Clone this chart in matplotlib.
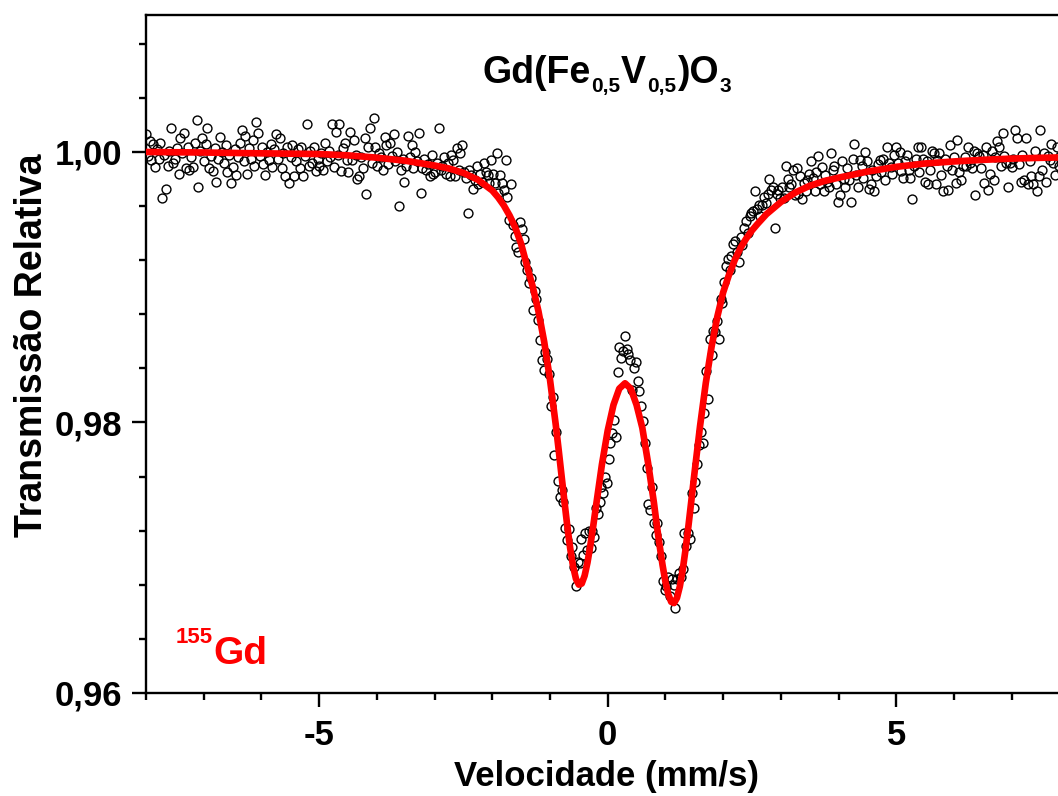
import numpy as np
import matplotlib
matplotlib.use("Agg")
import matplotlib.pyplot as plt
from matplotlib.ticker import MultipleLocator, FuncFormatter

plt.rcParams['font.family'] = ['Liberation Sans', 'DejaVu Sans']
plt.rcParams['font.weight'] = 'bold'
plt.rcParams['axes.unicode_minus'] = False

# 155Gd Mossbauer spectrum of Gd(Fe0.5V0.5)O3: 512 channels from -8 to +8 mm/s
velocity = np.linspace(-8.0, 8.0, 512)

# relative transmission, channels at negative velocities (-8.00 ... -2.02 mm/s)
trans_left = [
    1.0013, 0.9997, 1.0008, 0.9994, 1.0006, 0.9989, 1.0002, 0.9995, 1.0007, 0.9966, 0.9998, 0.9973, 0.9990, 1.0001, 1.0018, 0.9992,
    0.9995, 1.0003, 0.9984, 1.0010, 0.9999, 1.0014, 0.9988, 1.0004, 0.9987, 0.9996, 0.9989, 1.0007, 1.0024, 0.9974, 1.0001, 1.0010,
    0.9993, 1.0006, 1.0018, 0.9988, 0.9997, 0.9986, 1.0003, 0.9978, 0.9995, 1.0011, 1.0000, 0.9992, 1.0005, 0.9985, 0.9998, 0.9977,
    0.9989, 1.0002, 0.9983, 0.9996, 1.0007, 1.0016, 0.9993, 1.0012, 0.9984, 1.0003, 0.9995, 1.0009, 0.9990, 1.0022, 1.0014, 0.9997,
    1.0004, 0.9991, 0.9983, 1.0000, 0.9994, 1.0006, 0.9989, 1.0002, 1.0013, 0.9995, 1.0010, 0.9988, 0.9999, 0.9982, 1.0004, 0.9977,
    0.9996, 1.0005, 0.9982, 0.9993, 1.0002, 0.9988, 1.0004, 0.9982, 0.9997, 1.0021, 0.9990, 1.0001, 0.9992, 1.0004, 0.9986, 0.9995,
    0.9990, 0.9999, 0.9987, 1.0007, 0.9993, 1.0001, 0.9996, 1.0021, 0.9989, 1.0015, 0.9998, 1.0021, 0.9986, 1.0003, 1.0007, 0.9994,
    0.9985, 1.0015, 0.9994, 1.0009, 0.9998, 0.9980, 0.9982, 0.9996, 0.9988, 1.0010, 0.9969, 1.0004, 1.0018, 0.9992, 1.0025, 1.0004,
    0.9990, 0.9999, 0.9996, 0.9987, 1.0011, 1.0005, 0.9991, 1.0007, 0.9997, 1.0013, 0.9993, 1.0000, 0.9960, 0.9987, 0.9995, 0.9978,
    0.9990, 1.0012, 0.9996, 1.0005, 0.9988, 1.0000, 0.9993, 1.0014, 0.9970, 0.9988, 0.9995, 0.9987, 0.9991, 0.9982, 0.9998, 0.9984,
    0.9985, 0.9992, 1.0018, 0.9987, 0.9990, 0.9996, 0.9984, 0.9992, 0.9982, 0.9998, 0.9994, 0.9982, 1.0003, 0.9987, 0.9999, 1.0005,
    0.9985, 0.9981, 0.9955, 0.9987, 0.9983, 0.9973, 0.9979, 0.9990, 0.9976, 0.9984, 0.9978, 0.9992, 0.9985, 0.9983, 0.9977, 0.9994,
]

# channels across the doublet (-1.99 ... +1.99 mm/s)
trans_centre = [
    0.9984, 0.9977, 0.9999, 0.9970, 0.9983, 0.9977, 0.9972, 0.9994, 0.9967, 0.9950, 0.9976, 0.9946, 0.9938, 0.9930, 0.9926, 0.9948,
    0.9943, 0.9936, 0.9919, 0.9913, 0.9903, 0.9907, 0.9883, 0.9897, 0.9891, 0.9876, 0.9861, 0.9846, 0.9839, 0.9852, 0.9847, 0.9836,
    0.9812, 0.9819, 0.9776, 0.9793, 0.9757, 0.9745, 0.9750, 0.9741, 0.9722, 0.9713, 0.9721, 0.9701, 0.9708, 0.9693, 0.9679, 0.9697,
    0.9696, 0.9714, 0.9702, 0.9718, 0.9706, 0.9720, 0.9707, 0.9720, 0.9715, 0.9737, 0.9732, 0.9741, 0.9752, 0.9748, 0.9760, 0.9755,
    0.9773, 0.9785, 0.9792, 0.9802, 0.9789, 0.9837, 0.9856, 0.9848, 0.9853, 0.9864, 0.9854, 0.9851, 0.9846, 0.9824, 0.9840, 0.9845,
    0.9831, 0.9823, 0.9812, 0.9801, 0.9785, 0.9766, 0.9740, 0.9735, 0.9752, 0.9726, 0.9717, 0.9726, 0.9712, 0.9701, 0.9683, 0.9676,
    0.9679, 0.9686, 0.9672, 0.9684, 0.9680, 0.9663, 0.9684, 0.9689, 0.9686, 0.9692, 0.9718, 0.9709, 0.9718, 0.9714, 0.9748, 0.9737,
    0.9756, 0.9769, 0.9783, 0.9793, 0.9785, 0.9807, 0.9838, 0.9817, 0.9862, 0.9850, 0.9868, 0.9867, 0.9875, 0.9862, 0.9891, 0.9888,
]

# channels at positive velocities (+2.02 ... +8.00 mm/s)
trans_right = [
    0.9904, 0.9916, 0.9921, 0.9913, 0.9923, 0.9932, 0.9934, 0.9926, 0.9919, 0.9937, 0.9931, 0.9944, 0.9949, 0.9940, 0.9953, 0.9955,
    0.9956, 0.9971, 0.9958, 0.9961, 0.9953, 0.9961, 0.9967, 0.9962, 0.9969, 0.9980, 0.9972, 0.9974, 0.9944, 0.9969, 0.9972, 0.9966,
    0.9974, 0.9966, 0.9990, 0.9980, 0.9974, 0.9976, 0.9987, 0.9968, 0.9988, 0.9969, 0.9982, 0.9965, 0.9977, 0.9971, 0.9979, 0.9984,
    0.9993, 0.9981, 0.9971, 0.9985, 0.9997, 0.9976, 0.9989, 0.9971, 0.9983, 0.9978, 0.9974, 0.9999, 0.9987, 0.9990, 0.9976, 0.9963,
    0.9968, 0.9993, 0.9980, 0.9974, 0.9988, 0.9979, 0.9963, 0.9995, 1.0006, 0.9983, 0.9974, 0.9994, 0.9990, 0.9981, 1.0000, 0.9993,
    0.9973, 0.9976, 0.9987, 0.9971, 0.9982, 0.9991, 0.9994, 0.9985, 0.9995, 0.9979, 1.0004, 0.9992, 0.9989, 0.9984, 0.9998, 1.0004,
    0.9992, 1.0000, 0.9986, 0.9981, 0.9993, 0.9998, 0.9987, 0.9981, 0.9965, 0.9990, 0.9995, 1.0004, 0.9985, 1.0004, 0.9995, 0.9978,
    0.9993, 0.9976, 0.9987, 1.0001, 0.9999, 0.9976, 0.9994, 0.9999, 0.9983, 0.9971, 0.9995, 0.9990, 0.9972, 1.0005, 0.9987, 0.9996,
    0.9977, 1.0009, 0.9985, 0.9979, 0.9990, 0.9996, 0.9990, 1.0004, 0.9992, 0.9988, 1.0001, 0.9968, 0.9999, 0.9997, 0.9988, 0.9998,
    0.9977, 1.0004, 0.9972, 0.9984, 1.0001, 0.9979, 0.9996, 1.0008, 1.0004, 0.9990, 1.0014, 0.9997, 0.9992, 0.9974, 0.9992, 0.9989,
    0.9995, 1.0016, 1.0010, 0.9991, 0.9978, 0.9998, 0.9979, 1.0010, 0.9976, 0.9993, 0.9982, 0.9976, 1.0001, 0.9971, 0.9982, 1.0016,
    0.9987, 0.9999, 0.9978, 0.9997, 0.9994, 1.0006, 0.9992, 0.9983, 1.0004, 0.9990, 0.9997, 0.9986, 1.0008, 0.9993, 0.9999, 0.9988,
]

transmission = np.array(trans_left + trans_centre + trans_right)

# fitted doublet
fit_velocity = [
    -8.0, -7.0, -6.0, -5.0, -4.5, -4.0, -3.5, -3.0, -2.75, -2.5, -2.25,
    -2.0, -1.9, -1.8, -1.7, -1.6, -1.5, -1.4, -1.3, -1.2, -1.1, -1.0,
    -0.9, -0.85, -0.8, -0.75, -0.7, -0.65, -0.6, -0.55, -0.5, -0.45, -0.4, -0.35, -0.3, -0.25, -0.2,
    -0.1, 0.0, 0.1, 0.2, 0.3, 0.4, 0.5, 0.6, 0.7, 0.8,
    0.85, 0.9, 0.95, 1.0, 1.05, 1.1, 1.15, 1.2, 1.25, 1.3, 1.35, 1.4, 1.45, 1.5,
    1.6, 1.7, 1.8, 1.9, 2.0, 2.1, 2.2, 2.3, 2.4, 2.5, 2.6,
    2.75, 3.0, 3.25, 3.5, 3.75, 4.0, 4.5, 5.0, 5.5, 6.0, 6.5, 7.0, 7.5, 8.0,
]
fit_transmission = [
    1.00000, 0.99996, 0.99990, 0.99985, 0.99975, 0.99958, 0.99935, 0.99900, 0.99878, 0.99845, 0.99795,
    0.99715, 0.99665, 0.99605, 0.99530, 0.99440, 0.99320, 0.99160, 0.99005, 0.98823, 0.98596, 0.98317,
    0.97983, 0.97799, 0.97608, 0.97417, 0.97234, 0.97070, 0.96937, 0.96844, 0.96801, 0.96809, 0.96867, 0.96965, 0.97093, 0.97237, 0.97390,
    0.97690, 0.97940, 0.98130, 0.98250, 0.98290, 0.98250, 0.98130, 0.97960, 0.97700, 0.97410,
    0.97242, 0.97089, 0.96947, 0.96823, 0.96730, 0.96674, 0.96665, 0.96703, 0.96788, 0.96911, 0.97065, 0.97239, 0.97424, 0.97612,
    0.97973, 0.98293, 0.98561, 0.98783, 0.98961, 0.99090, 0.99200, 0.99290, 0.99360, 0.99420, 0.99470,
    0.99540, 0.99630, 0.99700, 0.99750, 0.99785, 0.99810, 0.99855, 0.99890, 0.99915, 0.99930, 0.99942, 0.99951, 0.99957, 0.99961,
]

x_ticks_major = [-5, 0, 5]
y_ticks_major = [0.96, 0.98, 1.00]

W, H = 1058, 796
fig = plt.figure(figsize=(W / 100, H / 100), dpi=100)
# the frame runs a little past the right edge of the image
ax = fig.add_axes([146 / W, 103 / H, 923.4 / W, 678.3 / H])

ax.plot(velocity, transmission, ls='none', marker='o', ms=6.4, mfc='none',
        mec='black', mew=1.0, zorder=2)
ax.plot(fit_velocity, fit_transmission, color='#ff0000', lw=4.8, zorder=3,
        solid_joinstyle='round')

ax.set_xlim(-8, 8)
ax.set_ylim(0.96, 1.01015)

for sp in ax.spines.values():
    sp.set_linewidth(1.7)

ax.set_xticks(x_ticks_major)
ax.set_yticks(y_ticks_major)
ax.xaxis.set_minor_locator(MultipleLocator(1))
ax.yaxis.set_minor_locator(MultipleLocator(0.004))
ax.xaxis.set_major_formatter(FuncFormatter(lambda v, p: f"{v:g}"))
ax.yaxis.set_major_formatter(FuncFormatter(lambda v, p: f"{v:.2f}".replace('.', ',')))
ax.tick_params(axis='x', which='major', direction='out', length=10, width=1.7,
               labelsize=25, pad=9)
ax.tick_params(axis='y', which='major', direction='out', length=10, width=1.7,
               labelsize=25, pad=7)
ax.tick_params(which='minor', direction='out', length=5, width=1.7)
ax.tick_params(which='both', top=False, right=False)

ax.set_xlabel('Velocidade (mm/s)', fontsize=25, fontweight='bold')
ax.xaxis.set_label_coords((607 - 146) / 923.4, (796 - 760 - 103) / 678.3)
ax.set_ylabel('Transmissão Relativa', fontsize=27, fontweight='bold')
ax.yaxis.set_label_coords((50 - 146) / 923.4, (796 - 345 - 103) / 678.3)

# compound formula, built piece by piece with lowered subscripts
main_size, sub_size, drop = 27, 15, 3.5
t = ax.text(-2.17, 1.00508, 'Gd(Fe', fontsize=main_size, fontweight='bold',
            ha='left', va='baseline')
pieces = [('0,5', sub_size, -drop), ('V', main_size, drop),
          ('0,5', sub_size, -drop), (')O', main_size, drop),
          ('3', sub_size, -drop)]
for txt, size, dy in pieces:
    t = ax.annotate(txt, xy=(1, 0), xycoords=t, xytext=(0.5, dy),
                    textcoords='offset points', fontsize=size,
                    fontweight='bold', ha='left', va='bottom')

# isotope label
ax.text(-6.845, 0.96370, '155', fontsize=16, fontweight='bold', color='#ff0000',
        ha='right', va='baseline')
ax.text(-6.827, 0.96214, 'Gd', fontsize=28, fontweight='bold', color='#ff0000',
        ha='left', va='baseline')

fig.savefig('out.png', dpi=100)
